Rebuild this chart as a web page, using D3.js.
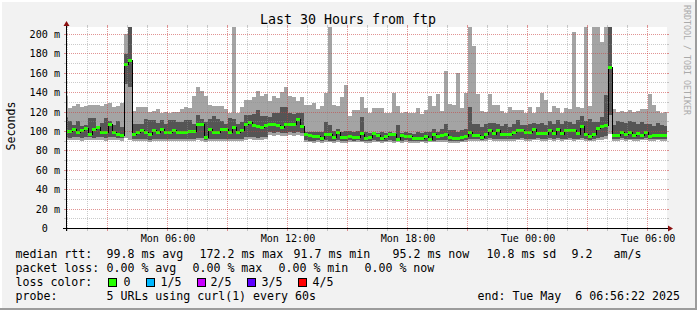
<!DOCTYPE html>
<meta charset="utf-8">
<style>
body { margin: 0; background: #f2f2f2; }
svg text { font-family: "DejaVu Sans Mono", monospace; white-space: pre; fill: #000; }
</style>
<svg id="chart" width="697" height="310"></svg>
<script src="https://d3js.org/d3.v7.min.js"></script>
<script>

var svg = d3.select("svg#chart"),
	width = +svg.attr("width"),
	height = +svg.attr("height");

// time window and 12 minute consolidation bins
var startTime = new Date(Date.UTC(2025, 4, 5, 0, 56, 22)),
	endTime = new Date(Date.UTC(2025, 4, 6, 6, 56, 22)),
	firstBin = new Date(Date.UTC(2025, 4, 5, 0, 48)),
	binMinutes = 12;

// sorted ping values per bin (ms): lowest, 2nd, median, 4th, highest
var hi = [136.4, 123.4, 126.1, 127.8, 124.4, 126.1, 127.2, 126.8, 127.2, 126.1, 127.5, 128.9, 124.4, 126.1, 128.9, 199.7, 215,
	121.0, 124.4, 124.4, 124.4, 119.9, 121.0, 122.7, 118.6, 119.9, 118.6, 119.9, 119.3, 122.7, 124.4, 123.4, 136.4, 145.7, 141.6, 136.4, 126.8, 125.4, 125.4, 125.4, 122.7, 118.6, 215, 118.6, 124.4, 132.3, 132.3, 134.7, 141.6, 136.4, 138.2,
	131.3, 136.4, 133.7, 140.6, 145.7, 136.4, 134.7, 131.3, 134.7, 127.2, 127.2, 128.9, 122.7, 126.1, 139.2, 215, 126.8, 126.1, 134.7, 147.8, 115.8, 122.0, 122.0, 134.7, 123.4, 118.6, 124.1, 124.1, 124.1, 118.6, 118.6, 139.2, 126.1, 118.6, 119.9, 118.6, 118.6, 123.4, 117.9, 122.0, 135.7, 126.1, 138.2, 121.0, 162.2, 128.2, 126.8, 159.8, 123.4, 139.2,
	215, 187.3, 138.2, 121.0, 119.9, 138.2, 126.8, 126.8, 121.0, 118.6, 124.4, 122.0, 122.0, 122.0, 118.6, 124.4, 118.6, 124.4, 139.2, 132.3, 119.9, 126.1, 123.4, 118.6, 123.4, 122.7, 201.7, 124.4, 123.4, 215, 125.4, 215, 215, 191.4, 215, 215, 122.7, 119.9, 121.0, 119.9, 122.0, 119.9, 121.0, 122.7, 122.7, 138.2, 126.8, 121.0, 118.6, 119.9];

var q3 = [114.1, 110.7, 106.2, 110.7, 105.5, 106.2, 113.1, 113.1, 105.5, 108.3, 113.1, 110.7, 106.2, 110.7, 103.8, 179.4, 210,
	107.2, 107.2, 107.2, 112.4, 111.7, 111.7, 108.3, 111.4, 107.2, 111.4, 111.4, 109.0, 109.0, 111.4, 111.4, 107.2, 116.5, 112.4, 109.7, 112.4, 115.8, 112.4, 110.0, 107.2, 113.1, 112.4, 107.2, 109.0, 116.5, 116.5, 117.5, 122.0, 115.8, 115.8,
	114.1, 118.6, 118.6, 124.4, 124.4, 118.6, 117.5, 118.6, 118.6, 99.4, 99.4, 99.4, 99.4, 99.4, 109.0, 106.2, 100.0, 102.1, 98.6, 100.0, 100.0, 98.6, 100.0, 114.1, 99.4, 98.0, 99.4, 98.0, 99.4, 98.0, 99.4, 98.0, 106.2, 98.0, 98.6, 98.0, 96.9, 98.6, 98.0, 98.6, 99.4, 102.1, 99.4, 102.1, 106.9, 101.4, 101.4, 99.4, 101.4, 102.1,
	124.4, 107.2, 107.2, 103.8, 107.2, 108.3, 108.3, 107.2, 105.5, 107.2, 103.8, 107.2, 111.7, 106.2, 106.2, 107.2, 108.3, 107.2, 108.3, 106.2, 110.7, 107.2, 111.7, 107.2, 110.7, 109.0, 107.2, 111.7, 115.8, 110.7, 112.4, 109.0, 109.7, 114.1, 137.0, 210, 106.2, 110.7, 109.0, 108.3, 110.7, 109.0, 107.2, 109.7, 107.2, 107.2, 105.5, 108.3, 106.2, 105.5];

var median = [99.4, 99.4, 101.4, 98.6, 100.0, 102.1, 95.9, 101.4, 103.8, 98.6, 98.6, 106.2, 98.0, 95.9, 95.2, 168.4, 172.2,
	96.3, 98.6, 100.0, 98.6, 95.9, 100.0, 98.0, 101.4, 98.0, 98.6, 100.0, 98.0, 98.0, 98.0, 99.4, 99.4, 106.9, 106.9, 93.5, 101.4, 98.6, 98.6, 101.4, 101.4, 98.6, 103.8, 98.0, 100.0, 106.2, 108.3, 105.5, 104.8, 103.8, 105.5,
	106.9, 106.9, 105.5, 103.8, 107.2, 106.2, 106.2, 111.4, 104.5, 96.3, 95.2, 94.5, 94.5, 92.5, 96.6, 96.6, 93.5, 98.0, 93.5, 92.8, 94.5, 93.5, 93.5, 96.9, 91.8, 93.5, 96.9, 95.2, 92.5, 94.5, 95.9, 96.6, 91.7, 95.2, 94.2, 94.2, 92.5, 92.5, 91.8, 94.5, 91.7, 95.9, 94.2, 95.2, 95.9, 93.5, 92.5, 92.5, 93.5, 94.2,
	98.0, 95.2, 95.2, 93.5, 95.9, 100.7, 96.9, 100.7, 95.9, 96.6, 96.6, 98.0, 100.0, 100.0, 98.0, 98.6, 101.4, 96.9, 96.9, 96.9, 100.0, 96.9, 101.4, 96.9, 100.0, 100.0, 100.7, 96.9, 104.8, 96.6, 93.9, 96.6, 102.8, 104.8, 105.5, 165.6, 95.2, 95.2, 98.6, 96.6, 98.0, 95.2, 96.9, 95.2, 98.6, 94.5, 95.2, 95.2, 95.2, 95.2];

var q1 = [93.5, 93.2, 94.0, 93.5, 92.8, 93.5, 94.2, 93.0, 93.8, 93.5, 92.8, 93.5, 94.0, 93.2, 92.5, 148, 145,
	92.0, 91.5, 92.2, 91.8, 91.2, 92.0, 91.5, 91.8, 92.2, 91.5, 91.8, 92.0, 91.5, 91.8, 92.2, 91.8, 93.0, 92.5, 90.8, 91.8, 92.0, 91.5, 92.2, 91.8, 91.5, 92.0, 91.8, 92.0, 93.5, 94.0, 93.5, 93.0, 93.5, 94.0,
	98.5, 98.0, 98.5, 97.5, 98.0, 98.5, 98.0, 98.5, 97.5,
	90.5, 90.0, 89.8, 90.2, 89.5, 90.5, 90.0, 89.8, 90.5, 89.5, 89.8, 90.2, 90.0, 90.5, 90.0, 89.2, 89.8, 90.5, 90.0, 89.5, 90.0, 90.5, 89.2, 90.0, 89.8, 90.2, 89.5, 89.5, 89.2, 90.0, 89.5, 90.5, 90.0, 90.5, 90.2, 90.5, 89.8, 89.8, 89.5, 90.0, 90.2,
	91.5, 91.8, 92.0, 91.2, 92.0, 92.5, 91.8, 92.2, 91.8, 92.0, 91.5, 92.0, 92.2, 92.5, 92.0, 91.8, 92.2, 92.5, 91.8, 92.0, 92.5, 92.0, 92.5, 91.8, 92.2, 92.5, 92.0, 92.2, 92.5, 91.8, 91.2, 92.0, 92.5, 93.5, 95.0, 116, 91.8, 92.0, 92.5, 92.0, 92.2, 91.8, 92.0, 92.2, 92.5, 91.8, 92.0, 92.2, 92.0, 92.0];

var lo = [90.5, 90.5, 91.0, 90.5, 90.0, 90.5, 91.0, 90.2, 90.8, 90.5, 90.0, 90.5, 91.0, 90.2, 89.8, 93, 91,
	89.5, 89.2, 89.8, 89.5, 89.0, 89.8, 89.2, 89.5, 89.8, 89.2, 89.5, 89.8, 89.2, 89.5, 89.8, 89.5, 90.2, 90.0, 88.8, 89.5, 89.8, 89.2, 89.8, 89.5, 89.2, 89.8, 89.5, 89.8, 91.0, 91.5, 91.0, 90.5, 91.0, 91.5,
	95.5, 95.0, 95.5, 94.8, 95.0, 95.5, 95.0, 95.5, 94.8,
	88.5, 88.2, 88.0, 88.3, 87.8, 88.5, 88.2, 88.0, 88.5, 87.8, 88.0, 88.3, 88.2, 88.5, 88.2, 87.5, 88.0, 88.5, 88.2, 87.8, 88.2, 88.5, 87.5, 88.2, 88.0, 88.3, 87.8, 87.8, 87.5, 88.2, 87.8, 88.5, 88.2, 88.5, 88.3, 88.5, 88.0, 88.0, 87.8, 88.2, 88.3,
	89.5, 89.8, 90.0, 89.2, 90.0, 90.3, 89.8, 90.0, 89.8, 90.0, 89.5, 90.0, 90.2, 90.3, 90.0, 89.8, 90.2, 90.3, 89.8, 90.0, 90.3, 90.0, 90.3, 89.8, 90.2, 90.3, 90.0, 90.2, 90.3, 89.8, 89.2, 90.0, 90.3, 91.0, 92.0, 97, 89.8, 90.0, 90.3, 90.0, 90.2, 89.8, 90.0, 90.2, 90.3, 89.8, 90.0, 90.2, 90.0, 90.0];

var xTickTimes = ["2025-05-05T06:00:00Z", "2025-05-05T12:00:00Z", "2025-05-05T18:00:00Z", "2025-05-06T00:00:00Z", "2025-05-06T06:00:00Z"];
var xTickLabels = ["Mon 06:00", "Mon 12:00", "Mon 18:00", "Tue 00:00", "Tue 06:00"];
var yTicks = [0, 20, 40, 60, 80, 100, 120, 140, 160, 180, 200];
var yTickLabels = ["0  ", "20 m", "40 m", "60 m", "80 m", "100 m", "120 m", "140 m", "160 m", "180 m", "200 m"];

var lossLabels = ["0", "1/5", "2/5", "3/5", "4/5"];
var lossColors = ["#26ff00", "#00b8ff", "#c800ff", "#5e00ff", "#ff0000"];

var x = d3.scaleUtc().domain([startTime, endTime]).range([67, 667]);
var y = d3.scaleLinear().domain([0, 207.2]).range([228, 27]);

var gridColor = "rgba(140,140,140,0.45)",
	mgridColor = "rgba(200,60,60,0.55)";

// background, frame shades, canvas
svg.append("rect").attr("width", width).attr("height", height).attr("fill", "#f2f2f2");
svg.append("rect").attr("x", 0).attr("y", 0).attr("width", width).attr("height", 2).attr("fill", "#ffffff");
svg.append("rect").attr("x", 0).attr("y", 0).attr("width", 2).attr("height", height).attr("fill", "#ffffff");
svg.append("rect").attr("x", 0).attr("y", height - 2).attr("width", width).attr("height", 2).attr("fill", "#9c9c9c");
svg.append("rect").attr("x", width - 2).attr("y", 0).attr("width", 2).attr("height", height).attr("fill", "#9c9c9c");
svg.append("rect").attr("x", 67).attr("y", 27).attr("width", 600).attr("height", 201).attr("fill", "#fff");

svg.append("clipPath").attr("id", "clip")
	.append("rect").attr("x", 67).attr("y", 27).attr("width", 600).attr("height", 201);

var bins = median.map(function(d, i) {
	var t0 = d3.utcMinute.offset(firstBin, binMinutes * i);
	return { t0: t0, t1: d3.utcMinute.offset(t0, binMinutes), hi: hi[i], q3: q3[i], med: d, q1: q1[i], lo: lo[i] };
});

var plot = svg.append("g").attr("clip-path", "url(#clip)").attr("shape-rendering", "crispEdges");

// outer smoke
plot.selectAll("rect.outer").data(bins).join("rect").attr("class", "outer")
	.attr("x", function(d) { return x(d.t0); })
	.attr("width", function(d) { return x(d.t1) - x(d.t0); })
	.attr("y", function(d) { return y(d.hi); })
	.attr("height", function(d) { return y(d.lo) - y(d.hi); })
	.attr("fill", "#a4a4a4");

// inner smoke
plot.selectAll("rect.inner").data(bins).join("rect").attr("class", "inner")
	.attr("x", function(d) { return x(d.t0); })
	.attr("width", function(d) { return x(d.t1) - x(d.t0); })
	.attr("y", function(d) { return y(d.q3); })
	.attr("height", function(d) { return y(d.q1) - y(d.q3); })
	.attr("fill", "#555555");

// median line
var stepPts = bins.map(function(d) { return [x(d.t0), y(d.med)]; });
stepPts.push([x(bins[bins.length - 1].t1), y(bins[bins.length - 1].med)]);
plot.append("path")
	.attr("d", d3.line().curve(d3.curveStepAfter)(stepPts))
	.attr("fill", "none")
	.attr("stroke", "#000")
	.attr("stroke-width", 1);

// loss coloured median marks (no loss in this window)
plot.selectAll("rect.med").data(bins).join("rect").attr("class", "med")
	.attr("x", function(d) { return x(d.t0); })
	.attr("width", function(d) { return x(d.t1) - x(d.t0); })
	.attr("y", function(d) { return y(d.med) - 1.5; })
	.attr("height", 3)
	.attr("fill", lossColors[0]);

// grid
var grid = svg.append("g").attr("shape-rendering", "crispEdges");
var hMinor = d3.range(10, 200, 20);
grid.selectAll("line.hmin").data(hMinor).join("line")
	.attr("x1", 67).attr("x2", 667)
	.attr("y1", function(d) { return Math.round(y(d)) + 0.5; })
	.attr("y2", function(d) { return Math.round(y(d)) + 0.5; })
	.attr("stroke", gridColor).attr("stroke-dasharray", "1,1");
grid.selectAll("line.hmaj").data(yTicks.slice(1)).join("line")
	.attr("x1", 67).attr("x2", 667)
	.attr("y1", function(d) { return Math.round(y(d)) + 0.5; })
	.attr("y2", function(d) { return Math.round(y(d)) + 0.5; })
	.attr("stroke", mgridColor).attr("stroke-dasharray", "1,1");

var hours = d3.utcHour.range(startTime, endTime);
grid.selectAll("line.v").data(hours).join("line")
	.attr("x1", function(d) { return Math.round(x(d)) - 0.5; })
	.attr("x2", function(d) { return Math.round(x(d)) - 0.5; })
	.attr("y1", 27).attr("y2", 228)
	.attr("stroke", function(d) { return d.getUTCHours() % 3 === 0 ? mgridColor : gridColor; })
	.attr("stroke-dasharray", "1,1");

// small ticks at the plot edges
yTicks.concat(hMinor).forEach(function(v) {
	var yy = Math.round(y(v)) + 0.5, c = v % 20 === 0 ? mgridColor : gridColor;
	grid.append("line").attr("x1", 64).attr("x2", 67).attr("y1", yy).attr("y2", yy).attr("stroke", c);
	grid.append("line").attr("x1", 667).attr("x2", 669).attr("y1", yy).attr("y2", yy).attr("stroke", c);
});
hours.forEach(function(t) {
	var xx = Math.round(x(t)) - 0.5, c = t.getUTCHours() % 3 === 0 ? mgridColor : gridColor;
	grid.append("line").attr("x1", xx).attr("x2", xx).attr("y1", 228).attr("y2", 231).attr("stroke", c);
	grid.append("line").attr("x1", xx).attr("x2", xx).attr("y1", 25).attr("y2", 27).attr("stroke", c);
});

// axes with arrows
svg.append("line").attr("x1", 63).attr("x2", 670).attr("y1", 228.5).attr("y2", 228.5)
	.attr("stroke", "#000").attr("shape-rendering", "crispEdges");
svg.append("line").attr("x1", 66.5).attr("x2", 66.5).attr("y1", 231).attr("y2", 24)
	.attr("stroke", "#000").attr("shape-rendering", "crispEdges");
svg.append("path").attr("d", "M673,228.5L668,225.5L668,231.5Z").attr("fill", "#8b1010");
svg.append("path").attr("d", "M66.5,21L63.5,26L69.5,26Z").attr("fill", "#8b1010");

// axis labels
svg.selectAll("text.ylab").data(yTicks).join("text").attr("class", "ylab")
	.attr("x", 60)
	.attr("y", function(d) { return Math.round(y(d)) + 4; })
	.attr("text-anchor", "end")
	.style("font-size", "10.1px")
	.text(function(d, i) { return yTickLabels[i]; });

svg.selectAll("text.xlab").data(xTickTimes).join("text").attr("class", "xlab")
	.attr("x", function(d) { return Math.round(x(new Date(d))); })
	.attr("y", 241.5)
	.attr("text-anchor", "middle")
	.style("font-size", "10.1px")
	.text(function(d, i) { return xTickLabels[i]; });

svg.append("text")
	.attr("transform", "translate(14.5,126) rotate(-90)")
	.attr("text-anchor", "middle")
	.style("font-size", "11.6px")
	.text("Seconds");

svg.append("text")
	.attr("x", 348).attr("y", 24)
	.attr("text-anchor", "middle")
	.style("font-size", "13.3px")
	.text("Last 30 Hours from ftp");

svg.append("text")
	.attr("transform", "translate(684,5) rotate(90)")
	.style("font-size", "8.3px")
	.style("fill", "#aaaaaa")
	.text("RRDTOOL / TOBI OETIKER");

// legend
var legendRows = [
	{ y: 258, items: [[16, "median rtt:"], [107, "99.8 ms avg"], [200, "172.2 ms max"], [294, "91.7 ms min"], [393, "95.2 ms now"], [487, "10.8 ms sd"], [572, "9.2"], [614, "am/s"]] },
	{ y: 272, items: [[16, "packet loss:"], [107, "0.00 % avg"], [193, "0.00 % max"], [279, "0.00 % min"], [365, "0.00 % now"]] },
	{ y: 286, items: [[16, "loss color:"]] },
	{ y: 300, items: [[16, "probe:"], [107, "5 URLs using curl(1) every 60s"], [478, "end: Tue May  6 06:56:22 2025"]] }
];
legendRows.forEach(function(r) {
	r.items.forEach(function(it) {
		svg.append("text").attr("x", it[0] - 0.5).attr("y", r.y)
			.style("font-size", "11.6px").text(it[1]);
	});
});

var lossBoxX = [108, 146, 197, 247, 298];
var lossTextX = [124, 161, 211, 262, 313];
lossLabels.forEach(function(l, i) {
	svg.append("rect").attr("x", lossBoxX[i] + 0.5).attr("y", 278.5).attr("width", 8).attr("height", 8)
		.attr("fill", lossColors[i]).attr("stroke", "#000").attr("stroke-width", 1);
	svg.append("text").attr("x", lossTextX[i] - 0.5).attr("y", 286)
		.style("font-size", "11.6px").text(l);
});

</script>
